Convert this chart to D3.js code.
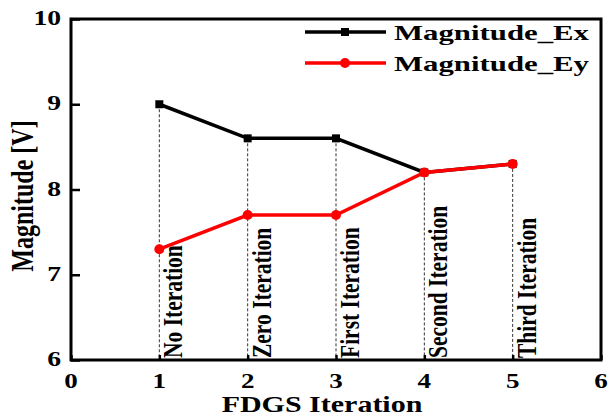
<!DOCTYPE html>
<html>
<head>
<meta charset="utf-8">
<script src="https://cdn.jsdelivr.net/npm/d3@7"></script>
<style>
  html, body { margin: 0; padding: 0; background: #fff; }
  svg { display: block; }
  text { font-family: "Liberation Serif", "Times New Roman", serif; font-weight: bold; fill: #000; }
</style>
</head>
<body>
<svg id="chart" width="609" height="419"></svg>
<script>
// FDGS iteration steps and the field magnitudes recorded at each step
const iterations = [1, 2, 3, 4, 5];
const stageNames = ["No Iteration", "Zero Iteration", "First Iteration", "Second Iteration", "Third Iteration"];
const magnitudeEx = [9.0, 8.6, 8.6, 8.2, 8.3];
const magnitudeEy = [7.3, 7.7, 7.7, 8.2, 8.3];
const xTicks = [0, 1, 2, 3, 4, 5, 6];
const yTicks = [6, 7, 8, 9, 10];
const seriesNames = ["Magnitude_Ex", "Magnitude_Ey"];

const svg = d3.select("#chart");
const plotLeft = 71, plotRight = 601, plotTop = 19, plotBottom = 360;

const x = d3.scaleLinear().domain([0, 6]).range([plotLeft, plotRight]);
const y = d3.scaleLinear().domain([6, 10]).range([plotBottom, plotTop]);

// wide serif lettering: stretch text horizontally around its anchor
function wideText(sel, px, py, sx, rot) {
  return sel.attr("transform", `translate(${px},${py}) scale(${sx},1)` + (rot ? ` rotate(${rot})` : ""));
}

// dashed drop lines from the upper point of each step to the x axis
svg.append("g").selectAll("line")
  .data(iterations)
  .join("line")
  .attr("x1", d => x(d)).attr("x2", d => x(d))
  .attr("y1", (d, i) => y(Math.max(magnitudeEx[i], magnitudeEy[i])))
  .attr("y2", plotBottom)
  .attr("stroke", "#333").attr("stroke-width", 1).attr("stroke-dasharray", "3,2");

// vertical stage labels
svg.append("g").selectAll("text")
  .data(iterations)
  .join("text")
  .each(function (d, i) {
    wideText(d3.select(this), x(d) + 23, plotBottom - 2, 1.3, -90);
  })
  .attr("font-size", 21.5)
  .attr("text-anchor", "start")
  .text((d, i) => stageNames[i]);

// axes (ticks pointing inward)
const xAxis = d3.axisBottom(x).tickValues(xTicks).tickSizeInner(-5).tickSizeOuter(0).tickFormat("");
const yAxis = d3.axisLeft(y).tickValues(yTicks).tickSizeInner(-9).tickSizeOuter(0).tickFormat("");
const gx = svg.append("g").attr("transform", `translate(0,${plotBottom})`).call(xAxis);
const gy = svg.append("g").attr("transform", `translate(${plotLeft},0)`).call(yAxis);
[gx, gy].forEach(g => {
  g.select(".domain").remove();
  g.selectAll(".tick line").attr("stroke", "#000").attr("stroke-width", 2.5);
});

// frame
svg.append("rect")
  .attr("x", plotLeft).attr("y", plotTop)
  .attr("width", plotRight - plotLeft).attr("height", plotBottom - plotTop)
  .attr("fill", "none").attr("stroke", "#000").attr("stroke-width", 3);

// tick labels
svg.append("g").selectAll("text")
  .data(xTicks)
  .join("text")
  .each(function (d) { wideText(d3.select(this), x(d), 388, 1.35); })
  .attr("font-size", 20).attr("text-anchor", "middle")
  .text(d => d);
svg.append("g").selectAll("text")
  .data(yTicks)
  .join("text")
  .each(function (d) { wideText(d3.select(this), 61, y(d) + 6, 1.38); })
  .attr("font-size", 20).attr("text-anchor", "end")
  .text(d => d);

// axis titles
wideText(svg.append("text"), (plotLeft + plotRight) / 2 - 14, 412, 1.25)
  .attr("font-size", 24).attr("text-anchor", "middle").text("FDGS Iteration");
wideText(svg.append("text"), 33, 196, 1.3, -90)
  .attr("font-size", 24).attr("text-anchor", "middle").text("Magnitude [V]");

// series
const line = d3.line().x(d => x(d[0])).y(d => y(d[1]));
const exPts = iterations.map((d, i) => [d, magnitudeEx[i]]);
const eyPts = iterations.map((d, i) => [d, magnitudeEy[i]]);

svg.append("path").datum(exPts).attr("d", line)
  .attr("fill", "none").attr("stroke", "#000").attr("stroke-width", 3.5);
svg.append("g").selectAll("rect").data(exPts).join("rect")
  .attr("x", d => x(d[0]) - 4).attr("y", d => y(d[1]) - 4)
  .attr("width", 8).attr("height", 8).attr("fill", "#000");

svg.append("path").datum(eyPts).attr("d", line)
  .attr("fill", "none").attr("stroke", "#ff0000").attr("stroke-width", 3.5);
svg.append("g").selectAll("circle").data(eyPts).join("circle")
  .attr("cx", d => x(d[0])).attr("cy", d => y(d[1])).attr("r", 5).attr("fill", "#ff0000");

// legend
const legend = svg.append("g");
const legendRows = [
  { name: seriesNames[0], color: "#000", marker: "square", yy: 32 },
  { name: seriesNames[1], color: "#ff0000", marker: "circle", yy: 63 }
];
legendRows.forEach(r => {
  legend.append("line").attr("x1", 305).attr("x2", 386).attr("y1", r.yy).attr("y2", r.yy)
    .attr("stroke", r.color).attr("stroke-width", 3.5);
  if (r.marker === "square") {
    legend.append("rect").attr("x", 341).attr("y", r.yy - 4).attr("width", 8).attr("height", 8).attr("fill", r.color);
  } else {
    legend.append("circle").attr("cx", 345).attr("cy", r.yy).attr("r", 5).attr("fill", r.color);
  }
  wideText(legend.append("text"), 394, r.yy + 8, 1.4)
    .attr("font-size", 22).attr("text-anchor", "start").text(r.name);
});
</script>
</body>
</html>
